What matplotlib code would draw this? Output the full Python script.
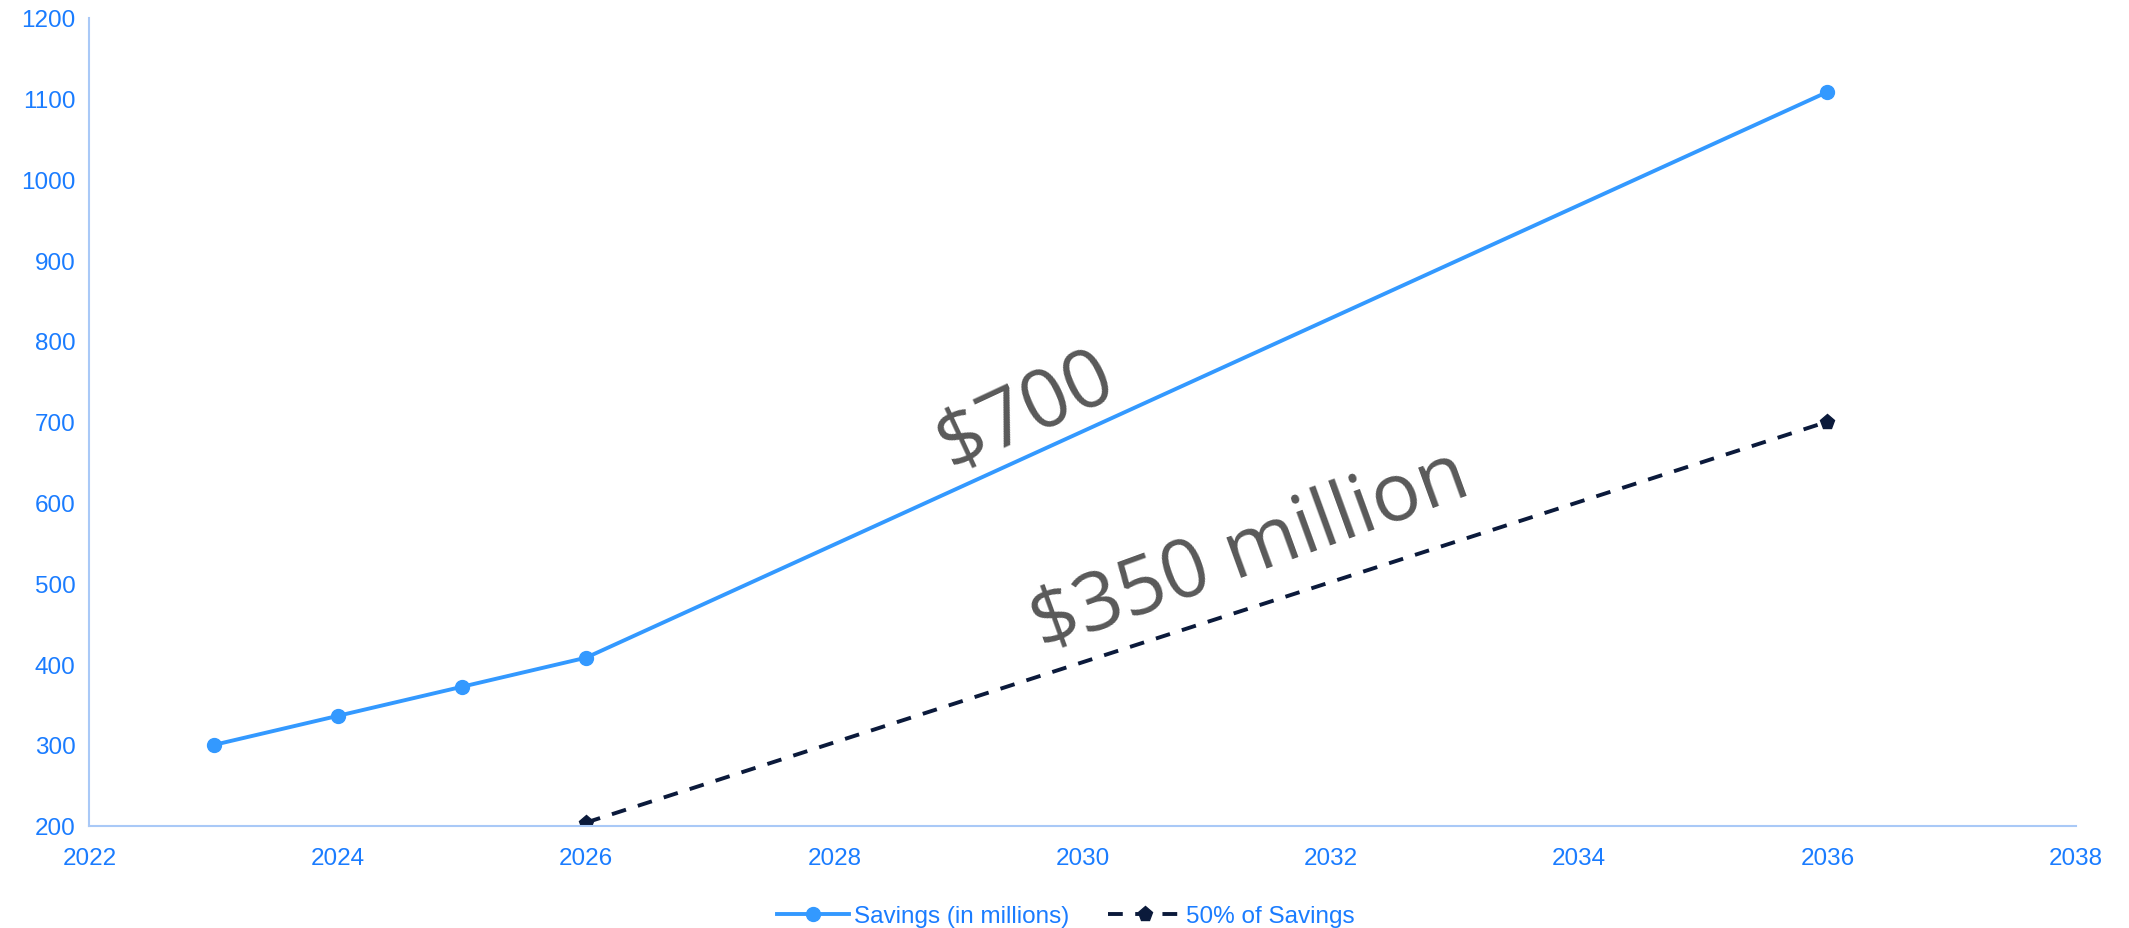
import matplotlib.pyplot as plt

# savings projection (millions)
years = [2023, 2024, 2025, 2026, 2036]
savings = [300, 336, 372, 408, 1108]

half_years = [2026, 2036]
half_savings = [204, 700]

x_ticks = list(range(2022, 2039, 2))
y_ticks = list(range(200, 1201, 100))

tick_blue = "#1a7cff"
line_blue = "#3399ff"
navy = "#0b1a3b"
spine_blue = "#a9c9f7"

plt.rcParams["font.family"] = ["Liberation Sans", "DejaVu Sans"]

fig = plt.figure(figsize=(21.29, 9.29), dpi=100)
ax = fig.add_axes([0.042, 0.110, 0.933, 0.870])

ax.plot(
    years,
    savings,
    color=line_blue,
    linewidth=2.8,
    marker="o",
    markersize=10,
    label="Savings (in millions)"
)

ax.plot(
    half_years,
    half_savings,
    color=navy,
    linewidth=2.8,
    linestyle=(0, (3.8, 3.2)),
    marker="p",
    markersize=11,
    label="50% of Savings"
)

ax.set_xlim(2022, 2038)
ax.set_ylim(200, 1200)
ax.set_xticks(x_ticks)
ax.set_yticks(y_ticks)

ax.tick_params(axis="both", length=0, labelsize=17.5, labelcolor=tick_blue)
ax.tick_params(axis="x", pad=15)
ax.tick_params(axis="y", pad=10)

for side in ["top", "right"]:
    ax.spines[side].set_visible(False)
for side in ["left", "bottom"]:
    ax.spines[side].set_color(spine_blue)
    ax.spines[side].set_linewidth(1.5)

# rotated callouts along the two lines
ax.text(
    2029.55, 712, "$700",
    rotation=25, rotation_mode="anchor",
    ha="center", va="center",
    fontsize=58, color="#595959", family="Open Sans"
)
ax.text(
    2031.35, 540, "$350 million",
    rotation=20, rotation_mode="anchor",
    ha="center", va="center",
    fontsize=58, color="#595959", family="Open Sans"
)

leg = ax.legend(
    loc="center",
    bbox_to_anchor=(0.4915, -0.112),
    ncol=2,
    frameon=False,
    fontsize=17.5,
    handlelength=3.0,
    columnspacing=1.6,
    handletextpad=0.2
)
for text in leg.get_texts():
    text.set_color(tick_blue)

plt.savefig("out.png", dpi=100)
